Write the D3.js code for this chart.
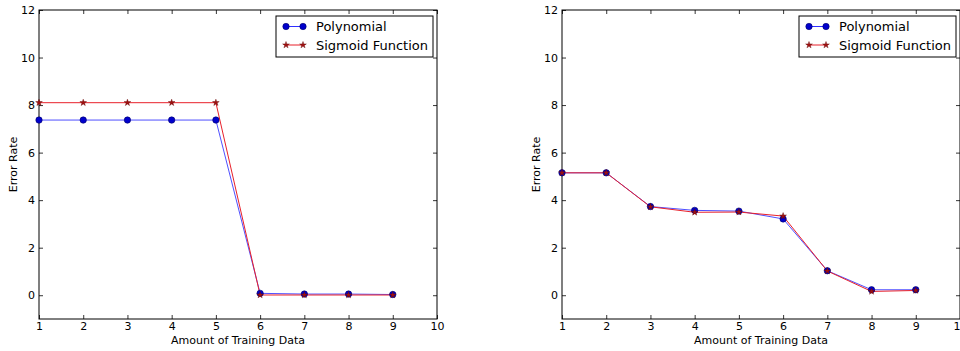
<!DOCTYPE html>
<html>
<head>
<meta charset="utf-8">
<script src="https://cdn.jsdelivr.net/npm/d3@7"></script>
<style>
  body { margin: 0; background: #fff; }
  svg { font-family: "DejaVu Sans", sans-serif; }
</style>
</head>
<body>
<svg id="chart" width="960" height="351"></svg>
<script>
const xValues = [1, 2, 3, 4, 5, 6, 7, 8, 9];
const xTicks = [1, 2, 3, 4, 5, 6, 7, 8, 9, 10];
const yTicks = [0, 2, 4, 6, 8, 10, 12];

// left panel
const polyLeft = [7.37, 7.37, 7.37, 7.37, 7.37, 0.08, 0.05, 0.05, 0.03];
const sigLeft = [8.1, 8.1, 8.1, 8.1, 8.1, 0.01, 0.01, 0.01, 0.01];

// right panel
const polyRight = [5.15, 5.15, 3.73, 3.57, 3.54, 3.21, 1.03, 0.23, 0.23];
const sigRight = [5.15, 5.15, 3.72, 3.49, 3.5, 3.33, 1.02, 0.16, 0.2];

const seriesNames = ["Polynomial", "Sigmoid Function"];

const panels = [
  { left: 39, poly: polyLeft, sig: sigLeft },
  { left: 562, poly: polyRight, sig: sigRight }
];

const svg = d3.select("#chart");
const plotTop = 10, plotBottom = 319, plotW = 398;

panels.forEach(p => {
  const g = svg.append("g");
  const x = d3.scaleLinear().domain([1, 10]).range([p.left, p.left + plotW]);
  const y = d3.scaleLinear().domain([-1, 12]).range([plotBottom, plotTop]);

  // ticks inside, all four sides
  const axB = d3.axisBottom(x).tickValues(xTicks).tickSizeInner(-4).tickSizeOuter(0).tickPadding(3);
  const axT = d3.axisTop(x).tickValues(xTicks).tickSizeInner(-4).tickSizeOuter(0).tickFormat("");
  const axL = d3.axisLeft(y).tickValues(yTicks).tickSizeInner(-4).tickSizeOuter(0).tickPadding(4);
  const axR = d3.axisRight(y).tickValues(yTicks).tickSizeInner(-4).tickSizeOuter(0).tickFormat("");

  [[axB, `translate(0,${plotBottom})`], [axT, `translate(0,${plotTop})`],
   [axL, `translate(${p.left},0)`], [axR, `translate(${p.left + plotW},0)`]].forEach(([ax, tr]) => {
    const a = g.append("g").attr("transform", tr).call(ax);
    a.select(".domain").remove();
    a.selectAll("line").attr("stroke", "#000").attr("stroke-width", 0.8);
    a.selectAll("text").attr("font-size", 11).attr("fill", "#000")
      .attr("font-family", "DejaVu Sans, sans-serif");
  });

  g.append("rect")
    .attr("x", p.left).attr("y", plotTop)
    .attr("width", plotW).attr("height", plotBottom - plotTop)
    .attr("fill", "none").attr("stroke", "#000").attr("stroke-width", 1);

  const line = d3.line().x((d, i) => x(xValues[i])).y(d => y(d));

  g.append("path").datum(p.poly)
    .attr("d", line).attr("fill", "none")
    .attr("stroke", "#3030ff").attr("stroke-opacity", 0.85).attr("stroke-width", 1);
  g.append("path").datum(p.sig)
    .attr("d", line).attr("fill", "none")
    .attr("stroke", "#e8202a").attr("stroke-width", 1);

  g.selectAll(".pt").data(p.poly).enter().append("circle")
    .attr("cx", (d, i) => x(xValues[i])).attr("cy", d => y(d))
    .attr("r", 3.2).attr("fill", "#0000cc").attr("stroke", "#00006a").attr("stroke-width", 0.6);

  const star = d3.symbol().type(d3.symbolStar).size(14);
  g.selectAll(".st").data(p.sig).enter().append("path")
    .attr("d", star)
    .attr("transform", (d, i) => `translate(${x(xValues[i])},${y(d)})`)
    .attr("fill", "#a01010").attr("stroke", "#600000").attr("stroke-width", 0.4);

  // axis labels
  g.append("text")
    .attr("x", (x(1) + x(10)) / 2).attr("y", 344)
    .attr("text-anchor", "middle").attr("font-size", 11)
    .text("Amount of Training Data");
  g.append("text")
    .attr("transform", `translate(${p.left - 22},${(plotTop + plotBottom) / 2}) rotate(-90)`)
    .attr("text-anchor", "middle").attr("font-size", 11)
    .text("Error Rate");

  // legend
  const lx = p.left + 237, ly = 16;
  const leg = g.append("g");
  leg.append("rect").attr("x", lx).attr("y", ly).attr("width", 157).attr("height", 41)
    .attr("fill", "#fff").attr("stroke", "#000").attr("stroke-width", 1);
  const rowY = [ly + 10.5, ly + 29];
  leg.append("line").attr("x1", lx + 10).attr("x2", lx + 27).attr("y1", rowY[0]).attr("y2", rowY[0])
    .attr("stroke", "#3030ff").attr("stroke-width", 1);
  [lx + 10, lx + 27].forEach(cx => {
    leg.append("circle").attr("cx", cx).attr("cy", rowY[0]).attr("r", 3.2)
      .attr("fill", "#0000cc").attr("stroke", "#00006a").attr("stroke-width", 0.6);
  });
  leg.append("line").attr("x1", lx + 10).attr("x2", lx + 27).attr("y1", rowY[1]).attr("y2", rowY[1])
    .attr("stroke", "#e8202a").attr("stroke-width", 1);
  [lx + 10, lx + 27].forEach(cx => {
    leg.append("path").attr("d", star).attr("transform", `translate(${cx},${rowY[1]})`)
      .attr("fill", "#a01010").attr("stroke", "#600000").attr("stroke-width", 0.4);
  });
  seriesNames.forEach((name, i) => {
    leg.append("text").attr("x", lx + 40).attr("y", rowY[i]).attr("dy", "0.35em")
      .attr("font-size", 13).text(name);
  });
});
</script>
</body>
</html>
